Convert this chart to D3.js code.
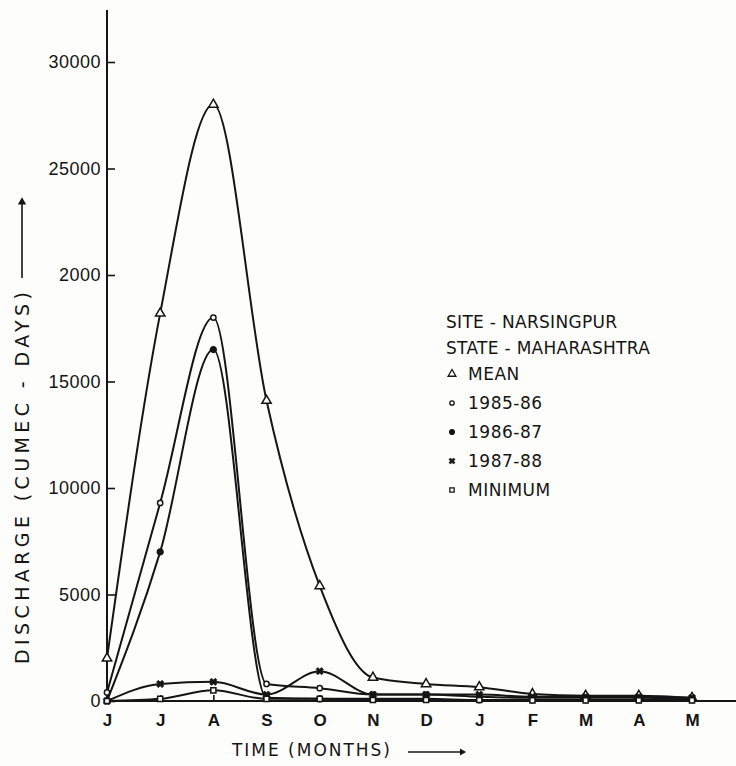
<!DOCTYPE html>
<html>
<head>
<meta charset="utf-8">
<script src="https://cdnjs.cloudflare.com/ajax/libs/d3/7.8.5/d3.min.js"></script>
<style>
  body { margin: 0; background: #fdfdfb; }
  svg { display: block; font-family: "DejaVu Sans", sans-serif; }
</style>
</head>
<body>
<div id="chart"></div>
<script>
// month order of the water year, June to May
const months = ["J", "J", "A", "S", "O", "N", "D", "J", "F", "M", "A", "M"];

// discharge (cumec-days)
const meanValues    = [2000, 18200, 28000, 14100, 5400, 1100, 800, 650, 330, 250, 250, 150];
const values198586  = [400, 9300, 18000, 800, 600, 300, 300, 200, 150, 150, 150, 100];
const values198687  = [0, 7000, 16500, 150, 100, 100, 100, 50, 50, 50, 50, 50];
const values198788  = [0, 800, 900, 300, 1400, 300, 300, 300, 200, 200, 200, 150];
const minimumValues = [0, 100, 500, 100, 100, 50, 50, 50, 30, 30, 30, 30];

const yTickValues = [0, 5000, 10000, 15000, 20000, 25000, 30000];
const yTickLabels = ["0", "5000", "10000", "15000", "2000", "25000", "30000"]; // "2000" as printed

const legendHeader = ["SITE - NARSINGPUR", "STATE - MAHARASHTRA"];
const seriesNames = ["MEAN", "1985-86", "1986-87", "1987-88", "MINIMUM"];

const width = 736, height = 766;

const svg = d3.select("#chart").append("svg")
    .attr("width", width)
    .attr("height", height);

const x = d3.scalePoint()
    .domain(d3.range(months.length))
    .range([107, 692]);

const y = d3.scaleLinear()
    .domain([0, 30000])
    .range([701, 62]);

const ink = "#151515";

// axes
const yAxis = svg.append("g")
    .attr("transform", `translate(${x(0)},0)`)
    .call(d3.axisLeft(y)
        .tickValues(yTickValues)
        .tickFormat((d, i) => yTickLabels[i])
        .tickSizeInner(-8)
        .tickSizeOuter(0)
        .tickPadding(6));
yAxis.select(".domain").remove();
yAxis.selectAll("line").attr("stroke", ink).attr("stroke-width", 1.6);
yAxis.selectAll("text")
    .attr("fill", ink)
    .style("font-size", "18px")
    .style("letter-spacing", "0.5px");

svg.append("line")
    .attr("x1", x(0)).attr("x2", x(0))
    .attr("y1", 10).attr("y2", y(0))
    .attr("stroke", ink).attr("stroke-width", 2);

const xAxis = svg.append("g")
    .attr("transform", `translate(0,${y(0)})`)
    .call(d3.axisBottom(x)
        .tickFormat(i => months[i])
        .tickSizeInner(-6)
        .tickSizeOuter(0)
        .tickPadding(13));
xAxis.select(".domain").remove();
xAxis.selectAll("line").attr("stroke", ink).attr("stroke-width", 1.6);
xAxis.selectAll("text")
    .attr("fill", ink)
    .style("font-size", "17px")
    .style("font-weight", "bold");

svg.append("line")
    .attr("x1", x(0) - 2).attr("x2", width)
    .attr("y1", y(0)).attr("y2", y(0))
    .attr("stroke", ink).attr("stroke-width", 2.2);

// axis titles with their arrows
svg.append("text")
    .attr("transform", "translate(22,478) rotate(-90)")
    .attr("text-anchor", "middle")
    .attr("dy", "0.35em")
    .attr("fill", ink)
    .attr("textLength", 372)
    .attr("lengthAdjust", "spacing")
    .style("font-size", "19px")
    .text("DISCHARGE (CUMEC - DAYS)");

svg.append("line")
    .attr("x1", 22).attr("x2", 22)
    .attr("y1", 278).attr("y2", 202)
    .attr("stroke", ink).attr("stroke-width", 1.6);
svg.append("path")
    .attr("d", d3.symbol(d3.symbolTriangle, 30)())
    .attr("transform", "translate(22,202)")
    .attr("fill", ink);

svg.append("text")
    .attr("x", 232).attr("y", 750)
    .attr("dy", "0.35em")
    .attr("fill", ink)
    .attr("textLength", 158)
    .attr("lengthAdjust", "spacing")
    .style("font-size", "17px")
    .text("TIME  (MONTHS)");

svg.append("line")
    .attr("x1", 408).attr("x2", 460)
    .attr("y1", 752).attr("y2", 752)
    .attr("stroke", ink).attr("stroke-width", 1.6);
svg.append("path")
    .attr("d", d3.symbol(d3.symbolTriangle, 22)())
    .attr("transform", "translate(462,752) rotate(90)")
    .attr("fill", ink);

// series
const series = [
    {name: seriesNames[0], values: meanValues,    symbol: d3.symbolTriangle, size: 38, fill: "none"},
    {name: seriesNames[1], values: values198586,  symbol: d3.symbolCircle,   size: 22, fill: "none"},
    {name: seriesNames[2], values: values198687,  symbol: d3.symbolCircle,   size: 26, fill: ink},
    {name: seriesNames[3], values: values198788,  symbol: d3.symbolCross,    size: 34, fill: ink, rotate: 45},
    {name: seriesNames[4], values: minimumValues, symbol: d3.symbolSquare,   size: 26, fill: "none"}
];

const line = d3.line()
    .x((d, i) => x(i))
    .y(d => y(d))
    .curve(d3.curveMonotoneX);

series.forEach(s => {
    svg.append("path")
        .datum(s.values)
        .attr("fill", "none")
        .attr("stroke", ink)
        .attr("stroke-width", 2)
        .attr("d", line);

    svg.append("g").selectAll("path")
        .data(s.values)
        .join("path")
        .attr("d", d3.symbol(s.symbol, s.size))
        .attr("transform", (d, i) => `translate(${x(i)},${y(d)}) rotate(${s.rotate || 0})`)
        .attr("fill", s.fill === "none" ? "#fdfdfb" : s.fill)
        .attr("stroke", ink)
        .attr("stroke-width", s.rotate ? 0.6 : 1.5);
});

// legend
const legend = svg.append("g").attr("transform", "translate(446,322)");
legend.selectAll("text.head")
    .data(legendHeader)
    .join("text")
    .attr("class", "head")
    .attr("x", 0)
    .attr("y", (d, i) => i * 26)
    .attr("dy", "0.35em")
    .attr("fill", ink)
    .style("font-size", "17px")
    .style("letter-spacing", "0.3px")
    .text(d => d);

const items = legend.selectAll("g.item")
    .data(series)
    .join("g")
    .attr("class", "item")
    .attr("transform", (d, i) => `translate(0,${52 + i * 29})`);

items.append("path")
    .attr("d", d => d3.symbol(d.symbol, d.size * 0.7)())
    .attr("transform", d => `translate(6,0) rotate(${d.rotate || 0})`)
    .attr("fill", d => d.fill === "none" ? "#fdfdfb" : d.fill)
    .attr("stroke", ink)
    .attr("stroke-width", d => d.rotate ? 0.5 : 1.3);

items.append("text")
    .attr("x", 22)
    .attr("dy", "0.35em")
    .attr("fill", ink)
    .style("font-size", "17px")
    .style("letter-spacing", "0.5px")
    .text(d => d.name);
</script>
</body>
</html>
